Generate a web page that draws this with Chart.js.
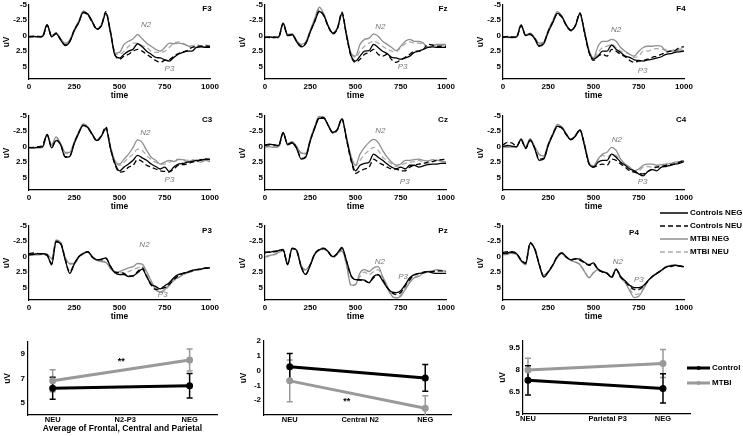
<!DOCTYPE html>
<html>
<head>
<meta charset="utf-8">
<script src="https://cdn.jsdelivr.net/npm/chart.js@4.4.1/dist/chart.umd.min.js"></script>
<style>
  body { margin:0; width:743px; height:436px; position:relative; overflow:hidden; background:#fff;
         font-family:"Liberation Sans", Arial, sans-serif; }
  canvas { position:absolute; }
  .leg { position:absolute; font-size:8px; font-weight:bold; color:#000; line-height:10px; white-space:nowrap; }
  .leg svg { position:absolute; }
</style>
</head>
<body>
<script>
// time axis (ms) and ticks
const time = [0,25,50,75,100,125,150,175,200,225,250,275,300,325,350,375,400,425,450,475,500,
              525,550,575,600,625,650,675,700,725,750,775,800,825,850,875,900,925,950,975,1000];
const timeTicks = [0,250,500,750,1000];
const uvTicks = [-5,-2.5,0,2.5,5];

const seriesNames = ['Controls NEG','Controls NEU','MTBI NEG','MTBI NEU'];
const seriesColors = ['#000','#000','#8f8f8f','#ababab'];
const seriesDash = [[],[5,3],[],[5,3]];

// ERP waveforms, uV (negative up)
const f3CtlNeg = [0.2,0.1,0.2,0.1,-1.8,0.2,-0.3,0.7,1.6,1.0,-0.8,-2.1,-3.8,-3.5,-2.3,-1.1,-1.6,-3.7,-0.5,3.2,3.6,3.0,2.5,2.2,1.3,1.8,2.5,3.0,3.5,3.6,3.9,4.1,3.5,3.0,2.7,2.5,2.5,1.9,1.8,1.9,1.9];
const f3CtlNeu = [0.2,0.2,0.1,0.2,-1.7,0.1,-0.4,0.6,1.5,0.9,-0.9,-2.2,-3.7,-3.4,-2.2,-1.0,-1.7,-3.9,-0.6,3.0,3.8,3.3,3.0,2.5,2.2,2.5,3.0,3.5,4.0,4.3,4.0,3.9,3.3,2.9,2.6,2.4,1.9,1.7,1.7,1.7,1.7];
const f3TbiNeg = [0.0,0.1,0.2,0.0,-1.8,0.0,-0.5,0.5,1.2,0.7,-1.0,-2.4,-4.0,-3.4,-2.1,-1.1,-1.8,-3.5,-0.9,2.8,2.7,1.4,0.9,0.5,-0.2,0.5,1.2,1.7,2.2,2.5,1.9,1.2,1.3,1.2,1.3,1.6,1.9,1.9,1.7,1.8,1.9];
const f3TbiNeu = [0.1,0.0,0.1,0.1,-1.7,0.1,-0.4,0.5,1.3,0.8,-1.0,-2.3,-3.9,-3.3,-2.1,-1.0,-1.7,-3.5,-0.8,2.9,3.0,2.5,1.7,1.2,1.2,1.6,1.9,2.5,2.7,2.7,2.5,1.9,1.2,1.0,1.2,1.6,1.6,1.4,1.7,1.5,1.7];

const fzCtlNeg = [0.3,0.2,0.3,0.2,-2.0,-0.1,-0.2,1.0,1.8,1.3,-0.6,-2.3,-3.9,-3.3,-1.5,-0.4,-1.2,-3.6,-0.1,3.2,4.1,3.3,2.5,2.4,1.4,1.9,2.5,2.9,3.5,3.6,3.8,3.6,3.3,2.7,2.5,2.2,1.9,1.8,1.9,1.9,1.9];
const fzCtlNeu = [0.2,0.3,0.2,0.3,-1.9,0.0,-0.1,0.9,1.7,1.2,-0.6,-2.4,-4.0,-3.2,-1.4,-0.3,-1.1,-3.8,0.0,3.3,4.3,3.8,3.0,2.7,2.2,3.0,3.3,3.0,3.9,4.3,3.9,3.5,3.0,2.5,2.5,2.2,1.4,1.5,1.7,1.7,1.7];
const fzTbiNeg = [0.3,0.2,0.2,0.3,-2.1,-0.2,-0.3,0.8,1.4,1.0,-0.9,-2.8,-4.6,-3.5,-1.6,-0.5,-1.3,-3.4,-0.4,2.8,3.3,1.4,0.6,0.4,-0.3,0.1,0.9,1.4,1.9,2.4,1.7,0.9,0.6,0.9,0.9,1.2,1.9,1.7,1.4,1.4,1.4];
const fzTbiNeu = [0.2,0.3,0.3,0.2,-2.0,-0.1,-0.2,0.8,1.5,1.1,-0.8,-2.6,-4.3,-3.4,-1.5,-0.4,-1.2,-3.4,-0.3,2.9,3.5,2.5,1.7,1.2,0.9,1.2,1.7,2.2,2.5,2.6,1.9,1.3,1.0,1.2,1.2,1.4,1.9,1.7,1.4,1.5,1.7];

const f4CtlNeg = [0.2,0.2,0.3,0.2,-1.7,0.0,-0.3,0.5,1.7,1.3,-0.6,-2.1,-3.6,-3.1,-1.7,-0.9,-1.6,-3.6,-0.6,2.6,3.8,3.3,2.5,2.5,1.5,2.2,2.7,3.3,3.5,3.9,4.0,4.1,3.9,3.8,3.6,3.4,3.0,2.9,2.7,2.6,2.5];
const f4CtlNeu = [0.3,0.1,0.2,0.3,-1.6,-0.1,-0.2,0.4,1.6,1.2,-0.7,-2.2,-3.5,-3.0,-1.6,-0.8,-1.7,-3.7,-0.5,2.7,4.0,3.3,3.0,3.3,2.2,2.5,3.0,3.4,4.0,4.3,4.1,4.0,3.8,3.5,3.3,3.0,2.7,2.5,2.4,1.9,1.8];
const f4TbiNeg = [0.2,0.3,0.2,0.1,-1.8,-0.1,-0.4,0.3,1.2,1.0,-0.9,-2.4,-3.9,-3.2,-1.7,-0.9,-1.7,-3.4,-0.8,2.3,3.6,1.7,0.9,0.9,0.6,0.9,1.9,2.5,3.0,3.3,2.5,1.9,1.7,1.7,1.6,1.7,2.5,2.5,2.5,2.3,2.4];
const f4TbiNeu = [0.1,0.2,0.2,0.2,-1.7,0.0,-0.3,0.4,1.3,1.1,-0.8,-2.3,-3.8,-3.1,-1.7,-0.9,-1.7,-3.4,-0.7,2.4,3.7,2.7,1.9,1.7,1.4,1.9,2.5,2.7,3.0,3.5,3.3,2.5,2.5,2.2,2.1,2.2,2.2,2.5,2.2,2.2,1.9];

const c3CtlNeg = [0.1,0.2,0.1,0.0,-2.0,0.2,-1.0,-0.3,1.7,1.6,-0.5,-2.2,-3.5,-3.1,-2.0,-1.0,-1.7,-3.0,0.3,2.7,3.9,3.3,2.8,2.2,1.4,1.8,2.2,2.8,3.2,3.6,3.3,4.0,3.3,2.8,2.7,2.5,2.4,2.2,2.2,2.0,2.1];
const c3CtlNeu = [0.2,0.1,0.0,-0.3,-1.9,0.1,-1.1,-0.4,1.6,1.5,-0.6,-2.3,-3.4,-3.0,-1.9,-0.9,-1.8,-3.2,0.2,2.9,4.1,4.0,3.3,3.0,2.1,2.4,3.0,3.3,3.6,3.9,4.0,4.1,3.6,3.0,2.9,2.8,2.5,2.4,2.1,2.0,2.0];
const c3TbiNeg = [0.1,0.1,0.2,0.1,-2.0,-0.3,-1.6,-0.5,0.9,0.9,-0.8,-2.4,-3.7,-3.2,-2.0,-1.1,-1.8,-2.8,-0.1,2.3,2.8,2.0,1.2,0.1,-1.1,-0.7,0.6,1.7,2.2,2.8,2.5,2.2,2.4,2.1,2.1,2.5,2.2,2.3,2.5,2.2,2.4];
const c3TbiNeu = [0.2,0.2,0.1,0.1,-1.9,-0.2,-1.4,-0.4,1.1,1.0,-0.7,-2.3,-3.6,-3.1,-1.9,-1.0,-1.8,-2.9,0.0,2.4,3.0,2.5,1.8,1.2,0.4,0.6,1.4,2.1,2.5,2.8,2.8,2.5,2.2,2.0,2.1,2.2,2.1,2.2,2.1,2.1,2.1];

const czCtlNeg = [-0.3,-0.4,-0.3,-0.2,-2.3,-0.3,-0.6,0.3,2.0,1.7,-0.9,-3.0,-4.6,-4.6,-3.4,-2.3,-2.8,-4.5,-1.3,2.0,3.9,3.0,2.7,2.5,1.2,1.7,2.2,2.8,3.3,3.6,3.3,3.6,3.0,3.0,3.3,3.1,2.9,2.8,2.8,2.7,2.7];
const czCtlNeu = [-0.2,-0.3,-0.3,-0.1,-2.2,-0.4,-0.7,0.2,1.9,1.6,-1.0,-3.1,-4.7,-4.7,-3.4,-2.2,-2.7,-4.6,-1.2,2.2,4.3,3.9,3.6,3.3,2.0,2.5,2.9,3.3,3.6,3.6,3.9,3.9,3.3,3.0,2.8,2.7,2.5,2.4,2.2,2.1,2.0];
const czTbiNeg = [0.0,0.0,0.1,0.0,-2.3,-0.5,-0.8,0.0,1.0,1.1,-1.2,-3.3,-5.0,-4.8,-3.4,-2.3,-2.9,-4.4,-1.6,1.5,3.0,1.2,0.1,-0.7,-1.2,-0.7,0.6,1.7,2.5,3.0,2.8,2.2,2.2,2.1,2.0,2.2,2.3,2.1,2.2,2.3,2.5];
const czTbiNeu = [0.1,0.0,0.0,0.1,-2.2,-0.4,-0.7,0.1,1.1,1.2,-1.1,-3.2,-4.9,-4.7,-3.3,-2.2,-2.8,-4.3,-1.5,1.6,3.1,2.2,1.2,0.6,0.1,0.6,1.7,2.2,2.8,3.2,3.0,2.7,2.5,2.4,2.2,2.5,2.7,2.4,2.2,2.4,2.5];

const c4CtlNeg = [0.0,-0.2,-0.1,0.0,-1.2,0.2,-1.1,0.3,2.2,2.0,-0.2,-1.9,-3.3,-3.1,-2.0,-1.1,-1.7,-2.7,-0.2,2.7,3.3,2.5,2.2,2.2,1.2,1.7,2.5,3.0,3.6,3.9,4.4,4.7,4.0,3.7,3.9,3.3,3.2,3.0,2.8,2.7,2.4];
const c4CtlNeu = [-0.3,-0.7,-0.6,-0.1,-1.1,0.3,-1.0,0.2,2.0,1.9,-0.3,-2.0,-3.2,-3.0,-1.9,-1.2,-1.8,-2.8,-0.3,2.8,3.3,3.0,2.8,3.0,2.0,2.2,2.8,3.3,3.9,4.1,4.3,4.4,4.0,3.6,3.3,3.2,3.0,2.9,2.8,2.5,2.2];
const c4TbiNeg = [0.0,0.1,0.0,0.1,-1.3,0.0,-1.3,0.0,1.2,1.5,-0.5,-2.1,-3.6,-3.2,-2.1,-1.2,-1.8,-2.6,-0.5,2.5,3.1,2.0,1.2,0.9,0.1,0.6,2.0,2.8,3.3,3.9,3.6,3.0,2.8,2.8,3.0,2.9,2.8,2.7,2.5,2.4,2.2];
const c4TbiNeu = [0.1,0.0,0.1,0.0,-1.2,0.1,-1.2,0.1,1.3,1.6,-0.4,-2.0,-3.5,-3.1,-2.0,-1.2,-1.8,-2.6,-0.4,2.6,3.2,2.2,1.4,1.7,1.2,1.4,2.5,3.0,3.6,4.0,3.9,3.3,3.2,3.3,3.2,3.0,2.9,2.8,2.7,2.5,2.5];

const p3CtlNeg = [-0.3,-0.4,-0.5,-0.5,-0.3,1.3,-2.4,-2.1,0.5,2.7,1.2,0.0,-0.5,-0.8,0.0,0.5,0.4,0.2,1.6,2.6,2.9,2.9,3.2,3.1,2.6,2.0,3.2,4.5,4.8,5.2,4.7,4.2,3.4,2.9,2.7,2.5,2.2,2.1,2.0,1.8,1.8];
const p3CtlNeu = [-0.5,-0.6,-0.5,-0.4,-0.2,1.1,-2.5,-2.2,0.4,2.5,1.1,0.0,-0.5,-0.8,0.1,0.5,0.5,0.3,1.5,2.5,2.6,2.7,3.1,3.1,2.4,1.8,3.2,4.6,5.3,5.2,5.0,4.5,3.7,3.1,2.7,2.5,2.3,2.1,2.0,1.9,1.8];
const p3TbiNeg = [-0.2,-0.3,-0.3,-0.4,-0.4,0.3,-2.7,-2.3,0.1,1.1,1.1,0.0,-0.6,-0.8,0.1,0.6,0.8,0.9,1.9,2.5,2.4,2.1,1.8,1.6,1.1,1.2,2.4,3.9,5.3,5.7,5.3,4.5,3.7,3.4,2.9,2.6,2.4,2.1,2.1,1.8,1.8];
const p3TbiNeu = [-0.3,-0.3,-0.4,-0.4,-0.3,0.4,-2.6,-2.3,0.2,1.2,1.2,0.1,-0.5,-0.7,0.1,0.6,0.7,0.8,1.8,2.4,2.6,2.6,2.4,2.1,1.8,1.6,2.6,4.2,5.0,5.8,5.5,4.7,3.9,3.4,2.9,2.6,2.2,2.1,2.0,1.8,1.8];

const pzCtlNeg = [-0.8,-0.7,-0.9,-1.0,-1.2,1.3,-1.4,-1.0,1.7,2.9,1.4,-0.4,-1.1,-1.3,-0.8,0.0,-0.6,-1.5,0.6,3.0,3.7,3.7,3.8,4.2,3.2,2.9,3.9,5.0,5.7,5.8,5.5,4.5,3.4,2.9,2.7,2.6,2.4,2.6,2.7,2.7,2.7];
const pzCtlNeu = [-0.6,-0.8,-0.8,-0.9,-1.1,1.2,-1.3,-0.9,1.6,2.8,1.3,-0.5,-1.2,-1.4,-0.7,0.1,-0.5,-1.3,0.7,3.1,3.7,3.8,3.9,4.2,3.4,2.9,3.7,5.0,5.8,6.1,5.8,4.7,3.7,3.0,2.7,2.5,2.4,2.4,2.3,2.3,2.4];
const pzTbiNeg = [0.0,-0.2,-0.4,-0.7,-1.0,1.0,-1.4,-1.1,1.4,2.1,1.2,-0.5,-1.1,-1.3,-0.8,0.0,-0.5,-1.0,1.2,4.6,4.5,2.6,2.1,2.4,1.8,1.6,3.2,4.7,6.3,6.7,6.4,5.3,4.2,3.4,3.2,2.6,2.4,2.3,2.1,2.2,2.4];
const pzTbiNeu = [0.1,-0.1,-0.3,-0.6,-1.0,1.1,-1.3,-1.0,1.5,2.2,1.3,-0.4,-1.0,-1.2,-0.7,0.1,-0.4,-0.9,1.3,4.7,4.5,3.2,2.5,2.9,2.4,2.1,3.4,5.0,6.4,6.6,6.2,5.0,3.9,3.4,3.0,2.7,2.5,2.4,2.3,2.3,2.3];

const p4CtlNeg = [-0.5,-0.6,-0.8,-0.5,0.6,1.1,-2.2,-1.2,1.3,3.3,2.5,1.4,0.0,-0.6,0.0,0.5,0.3,0.4,0.9,1.3,1.0,2.0,2.4,2.7,3.3,2.0,3.2,3.9,4.6,5.0,5.0,4.7,3.9,3.2,2.7,2.2,1.7,1.5,1.4,1.5,1.6];
const p4CtlNeu = [-0.7,-0.8,-0.7,-0.5,0.5,1.0,-2.3,-1.3,1.2,3.2,2.4,1.3,-0.1,-0.6,0.1,0.5,0.4,0.6,1.0,1.4,1.2,2.1,2.5,2.7,3.4,2.1,3.3,4.0,4.8,5.3,5.3,4.8,4.0,3.2,2.7,2.2,1.7,1.6,1.4,1.5,1.7];
const p4TbiNeg = [-0.3,-0.4,-0.6,-0.4,0.7,1.3,-2.1,-1.4,1.2,3.0,2.4,1.3,0.1,-0.5,0.1,0.6,0.9,1.3,2.4,3.4,2.6,2.1,2.4,2.6,3.3,2.0,3.4,4.2,5.5,6.6,6.4,5.3,3.9,3.2,2.7,2.2,1.6,1.4,1.3,1.5,1.6];
const p4TbiNeu = [-0.4,-0.5,-0.5,-0.4,0.6,1.2,-2.0,-1.5,1.1,3.0,2.5,1.4,0.2,-0.5,0.1,0.6,0.8,1.2,2.3,3.3,2.6,2.2,2.5,2.6,3.2,2.1,3.4,4.1,5.2,6.1,6.0,5.1,3.9,3.2,2.7,2.3,1.7,1.5,1.4,1.5,1.6];

// bottom summary charts (means and error bars)
const conds = ['NEU','NEG'];
const n2p3Control = [6.2, 6.4],   n2p3ControlErr = [0.9, 1.0];
const n2p3Mtbi    = [6.8, 8.5],   n2p3MtbiErr    = [0.9, 0.9];
const n2Control   = [0.25, -0.5], n2ControlErr   = [0.9, 0.9];
const n2Mtbi      = [-0.7, -2.55],n2MtbiErr      = [1.4, 0.85];
const p3Control   = [7.3, 6.75],  p3ControlErr   = [1.0, 1.0];
const p3Mtbi      = [8.0, 8.45],  p3MtbiErr      = [0.8, 0.95];

Chart.defaults.font.family = '"Liberation Sans", Arial, sans-serif';
Chart.defaults.color = '#000';

// text inside each ERP panel: electrode name, N2 / P3 marks
const erpText = {
  id: 'erpText',
  afterDatasetsDraw(chart, args, o) {
    const { ctx, chartArea: a, scales: { x, y } } = chart;
    ctx.save();
    ctx.textAlign = 'center';
    ctx.textBaseline = 'middle';
    ctx.fillStyle = '#000';
    ctx.font = 'bold 8px "Liberation Sans"';
    ctx.fillText(o.name, a.right - o.dx, a.top + o.dy);
    ctx.fillStyle = '#777';
    ctx.font = 'italic 8px "Liberation Sans"';
    ctx.fillText('N2', x.getPixelForValue(o.n2[0]), y.getPixelForValue(o.n2[1]));
    ctx.fillText('P3', x.getPixelForValue(o.p3[0]), y.getPixelForValue(o.p3[1]));
    ctx.restore();
  }
};

const panels = [
  { name:'F3', x:29,  y:4,   dx:3,  dy:4, n2:[647,-1.7], p3:[776,5.4], data:[f3CtlNeg,f3CtlNeu,f3TbiNeg,f3TbiNeu] },
  { name:'Fz', x:265, y:4,   dx:3,  dy:4, n2:[637,-1.5], p3:[760,5.1], data:[fzCtlNeg,fzCtlNeu,fzTbiNeg,fzTbiNeu] },
  { name:'F4', x:503, y:4,   dx:3,  dy:4, n2:[625,-0.9], p3:[771,5.6], data:[f4CtlNeg,f4CtlNeu,f4TbiNeg,f4TbiNeu] },
  { name:'C3', x:29,  y:115, dx:3,  dy:4, n2:[643,-2.3], p3:[776,5.3], data:[c3CtlNeg,c3CtlNeu,c3TbiNeg,c3TbiNeu] },
  { name:'Cz', x:265, y:115, dx:3,  dy:4, n2:[637,-2.6], p3:[772,5.6], data:[czCtlNeg,czCtlNeu,czTbiNeg,czTbiNeu] },
  { name:'C4', x:503, y:115, dx:3,  dy:4, n2:[629,-1.1], p3:[771,5.6], data:[c4CtlNeg,c4CtlNeu,c4TbiNeg,c4TbiNeu] },
  { name:'P3', x:29,  y:225, dx:3,  dy:5, n2:[638,-2.0], p3:[739,6.2], data:[p3CtlNeg,p3CtlNeu,p3TbiNeg,p3TbiNeu] },
  { name:'Pz', x:265, y:225, dx:3,  dy:5, n2:[634,0.8],  p3:[763,3.2], data:[pzCtlNeg,pzCtlNeu,pzTbiNeg,pzTbiNeu] },
  { name:'P4', x:503, y:225, dx:50, dy:7, n2:[635,0.8],  p3:[751,3.7], data:[p4CtlNeg,p4CtlNeu,p4TbiNeg,p4TbiNeu] },
];

const tickFont = { size: 8, weight: 'bold' };
const titleFont = { size: 8.5, weight: 'bold' };

function makeCanvas(left, top, w, h) {
  const cv = document.createElement('canvas');
  cv.width = w; cv.height = h;
  cv.style.left = left + 'px';
  cv.style.top = top + 'px';
  document.body.appendChild(cv);
  return cv;
}

function drawErp(p) {
  const plotW = 181, plotH = 75, yW = 29, xH = 22, padT = 6, padR = 12;
  const cv = makeCanvas(p.x - yW, p.y - padT, yW + plotW + padR, padT + plotH + xH);
  const datasets = seriesNames.map((label, k) => ({
    label,
    data: time.map((t, i) => ({ x: t, y: p.data[k][i] })),
    borderColor: seriesColors[k],
    borderDash: seriesDash[k],
    borderWidth: 1.3,
    pointRadius: 0,
    cubicInterpolationMode: 'monotone'
  }));
  new Chart(cv, {
    type: 'line',
    data: { datasets },
    options: {
      responsive: false, animation: false, events: [],
      layout: { padding: { top: padT, right: padR, left: 0, bottom: 0 } },
      plugins: { legend: { display: false }, tooltip: { enabled: false },
                 erpText: { name: p.name, dx: p.dx, dy: p.dy, n2: p.n2, p3: p.p3 } },
      scales: {
        x: {
          type: 'linear', min: 0, max: 1000,
          afterBuildTicks: s => { s.ticks = timeTicks.map(v => ({ value: v })); },
          afterFit: s => { s.height = xH; },
          grid: { display: false, drawTicks: false },
          border: { color: '#000', width: 1.2 },
          ticks: { font: tickFont, padding: 3, maxRotation: 0, autoSkip: false, callback: v => String(v) },
          title: { display: true, text: 'time', font: titleFont, padding: 0 }
        },
        y: {
          type: 'linear', reverse: true, min: -5, max: 7,
          afterBuildTicks: s => { s.ticks = uvTicks.map(v => ({ value: v })); },
          afterFit: s => { s.width = yW; },
          grid: { display: false, drawTicks: false },
          border: { color: '#000', width: 1.2 },
          ticks: { font: tickFont, padding: 2, autoSkip: false, callback: v => String(v) },
          title: { display: true, text: 'uV', font: titleFont, padding: { top: 2, bottom: 0 } }
        }
      }
    },
    plugins: [erpText]
  });
}

panels.forEach(drawErp);

// error bars + significance stars for the summary charts
const errBars = {
  id: 'errBars',
  beforeDatasetsDraw(chart, args, o) {
    const { ctx, chartArea: a, scales: { x, y } } = chart;
    ctx.save();
    ctx.beginPath();
    ctx.rect(a.left, a.top - 1, a.right - a.left, a.bottom - a.top + 1);
    ctx.clip();
    [1, 0].forEach(k => {
      const ds = chart.data.datasets[k];
      ctx.strokeStyle = ds.borderColor;
      ctx.lineWidth = 1.5;
      ds.data.forEach((pt, i) => {
        const px = x.getPixelForValue(pt.x);
        const lo = y.getPixelForValue(pt.y - o.errs[k][i]);
        const hi = y.getPixelForValue(pt.y + o.errs[k][i]);
        ctx.beginPath();
        ctx.moveTo(px, lo); ctx.lineTo(px, hi);
        ctx.moveTo(px - 3, lo); ctx.lineTo(px + 3, lo);
        ctx.moveTo(px - 3, hi); ctx.lineTo(px + 3, hi);
        ctx.stroke();
      });
    });
    ctx.restore();
  },
  afterDatasetsDraw(chart, args, o) {
    if (!o.star) return;
    const { ctx, scales: { x, y } } = chart;
    ctx.save();
    ctx.font = 'bold 9px "Liberation Sans"';
    ctx.fillStyle = '#000';
    ctx.textAlign = 'center';
    ctx.textBaseline = 'middle';
    ctx.fillText('**', x.getPixelForValue(o.star[0]), y.getPixelForValue(o.star[1]));
    ctx.restore();
  }
};

const stats = [
  { x:28,  y:340, w:189, h:75, xmin:-0.18, xmax:1.2, ymin:4,  ymax:10, yticks:[5,7,9],
    labels:['NEU','N2-P3','NEG'], mid:0.53, title:'Average of Frontal, Central and Parietal',
    ctl:n2p3Control, ctlErr:n2p3ControlErr, tbi:n2p3Mtbi, tbiErr:n2p3MtbiErr, star:[0.5, 8.4] },
  { x:264, y:339, w:187, h:76, xmin:-0.19, xmax:1.19, ymin:-3, ymax:2, yticks:[-2,-1,0,1,2],
    labels:['NEU','Central N2','NEG'], mid:0.52, title:'',
    ctl:n2Control, ctlErr:n2ControlErr, tbi:n2Mtbi, tbiErr:n2MtbiErr, star:[0.42, -2.1] },
  { x:523, y:339, w:167, h:75, xmin:-0.037, xmax:1.2, ymin:5, ymax:10, yticks:[5,6.5,8,9.5],
    labels:['NEU','Parietal P3','NEG'], mid:0.59, title:'',
    ctl:p3Control, ctlErr:p3ControlErr, tbi:p3Mtbi, tbiErr:p3MtbiErr, star:null },
];

function drawStat(b) {
  const yW = 28, padT = 6, padR = 8, xH = 436 - (b.y + b.h);
  const cv = makeCanvas(b.x - yW, b.y - padT, yW + b.w + padR, padT + b.h + xH);
  const tickPos = [0, b.mid, 1];
  new Chart(cv, {
    type: 'line',
    data: { datasets: [
      { label:'Control', data: conds.map((c, i) => ({ x: i, y: b.ctl[i] })),
        borderColor:'#000', backgroundColor:'#000', borderWidth:3, pointRadius:2 },
      { label:'MTBI', data: conds.map((c, i) => ({ x: i, y: b.tbi[i] })),
        borderColor:'#999', backgroundColor:'#999', borderWidth:3, pointRadius:2 }
    ] },
    options: {
      responsive: false, animation: false, events: [],
      layout: { padding: { top: padT, right: padR, left: 0, bottom: 0 } },
      plugins: { legend: { display: false }, tooltip: { enabled: false },
                 errBars: { errs: [b.ctlErr, b.tbiErr], star: b.star } },
      scales: {
        x: {
          type: 'linear', min: b.xmin, max: b.xmax,
          afterBuildTicks: s => { s.ticks = tickPos.map(v => ({ value: v })); },
          afterFit: s => { s.height = xH; },
          grid: { display: false, drawTicks: false },
          border: { color: '#000', width: 1.2 },
          ticks: { font: { size: 7.5, weight: 'bold' }, padding: 0, maxRotation: 0, autoSkip: false,
                   callback: (v, i) => b.labels[i] },
          title: { display: !!b.title, text: b.title, font: titleFont, padding: { top: 0, bottom: 2 } }
        },
        y: {
          type: 'linear', min: b.ymin, max: b.ymax,
          afterBuildTicks: s => { s.ticks = b.yticks.map(v => ({ value: v })); },
          afterFit: s => { s.width = yW; },
          grid: { display: false, drawTicks: false },
          border: { color: '#000', width: 1.2 },
          ticks: { font: tickFont, padding: 3, autoSkip: false, callback: v => String(v) },
          title: { display: true, text: 'uV', font: titleFont, padding: { top: 3, bottom: 0 } }
        }
      }
    },
    plugins: [errBars]
  });
}

stats.forEach(drawStat);

// legends
function legendRow(top, left, lineW, color, dash, width, dot, text) {
  const d = document.createElement('div');
  d.className = 'leg';
  d.style.left = left + 'px';
  d.style.top = (top - 5) + 'px';
  d.style.paddingLeft = (lineW + 2) + 'px';
  d.innerHTML = `<svg width="${lineW}" height="10" style="left:0;top:0">
    <line x1="0" y1="5" x2="${lineW}" y2="5" stroke="${color}" stroke-width="${width}" stroke-dasharray="${dash.join(',')}"/>
    ${dot ? `<circle cx="${lineW / 2}" cy="5" r="2" fill="${color}"/>` : ''}</svg>${text}`;
  document.body.appendChild(d);
}
seriesNames.forEach((n, k) => legendRow(213 + k * 13, 660, 28, seriesColors[k], seriesDash[k], 1.5, false, n));
legendRow(368, 687, 23, '#000', [], 3, true, 'Control');
legendRow(383, 687, 23, '#999', [], 3, true, 'MTBI');
</script>
</body>
</html>
